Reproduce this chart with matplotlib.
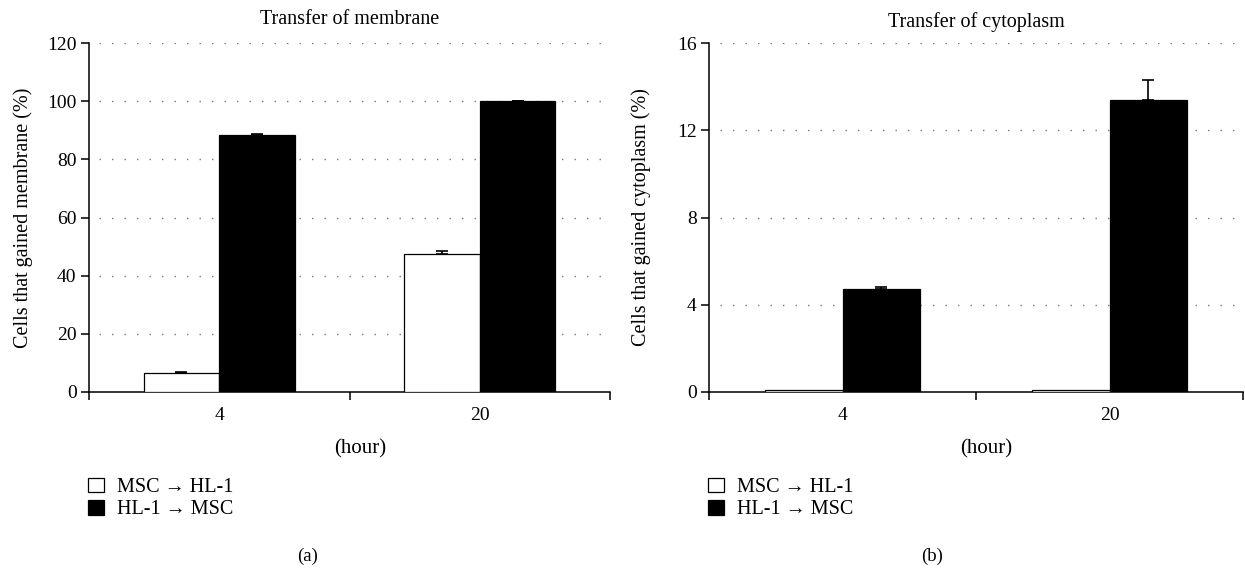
import numpy as np
import matplotlib.pyplot as plt

plt.rcParams['font.family'] = ['Liberation Serif', 'DejaVu Serif']
plt.rcParams['font.size'] = 14

# Data
hours = ['4', '20']
series = ['MSC \u2192 HL-1', 'HL-1 \u2192 MSC']
colors = ['white', 'black']

membrane_msc = [6.5, 47.5]
membrane_msc_err = [0.3, 0.9]
membrane_hl1 = [88.3, 100.0]
membrane_hl1_err = [0.5, 0.2]

cyto_msc = [0.08, 0.08]
cyto_msc_err = [0.0, 0.0]
cyto_hl1 = [4.7, 13.4]
cyto_hl1_err = [0.1, 0.9]

panels = [
    dict(title='Transfer of membrane', ylabel='Cells that gained membrane (%)',
         vals=[membrane_msc, membrane_hl1], errs=[membrane_msc_err, membrane_hl1_err],
         yticks=[0, 20, 40, 60, 80, 100, 120], ymax=120, tag='(a)', pad=14,
         tag_x=308 / 1245,
         rect=[89 / 1245, 1 - 392 / 568, 521 / 1245, 349 / 568]),
    dict(title='Transfer of cytoplasm', ylabel='Cells that gained cytoplasm (%)',
         vals=[cyto_msc, cyto_hl1], errs=[cyto_msc_err, cyto_hl1_err],
         yticks=[0, 4, 8, 12, 16], ymax=16, tag='(b)', pad=11.5,
         tag_x=932 / 1245,
         rect=[709 / 1245, 1 - 392 / 568, 534 / 1245, 349 / 568]),
]

fig = plt.figure(figsize=(12.45, 5.68), dpi=100)
x = np.arange(len(hours))
w = 0.29

for p in panels:
    ax = fig.add_axes(p['rect'])
    handles = []
    for i, (v, e) in enumerate(zip(p['vals'], p['errs'])):
        pos = x + (i - 0.5) * w
        bars = ax.bar(pos, v, width=w, color=colors[i], edgecolor='black',
                      linewidth=0.9, label=series[i], zorder=3)
        errs = np.array(e)
        if errs.any():
            ax.errorbar(pos, v, yerr=[np.zeros_like(errs), errs], fmt='none',
                        ecolor='black', elinewidth=1.2, capsize=4, capthick=1.2, zorder=4)
        handles.append(bars)

    ax.set_xlim(-0.5, 1.5)
    ax.set_ylim(0, p['ymax'])
    ax.set_yticks(p['yticks'])
    for yv in p['yticks'][1:]:
        ax.axhline(yv, xmin=0.02, xmax=1, color='#777777', linestyle=(0, (1, 8)),
                   linewidth=1, zorder=1)

    # category boundaries as ticks, labels centered
    ax.set_xticks([-0.5, 0.5, 1.5])
    ax.set_xticklabels([])
    ax.set_xticks(x, minor=True)
    ax.set_xticklabels(hours, minor=True)
    ax.tick_params(axis='x', which='major', direction='out', length=6, width=1.1)
    ax.tick_params(axis='x', which='minor', length=0, pad=11, labelsize=14)
    ax.tick_params(axis='y', direction='out', length=6, width=1.1, pad=3, labelsize=14)

    for s in ['top', 'right']:
        ax.spines[s].set_visible(False)
    ax.spines['left'].set_linewidth(1.1)
    ax.spines['bottom'].set_linewidth(1.1)

    ax.set_title(p['title'], fontsize=14.5, pad=p['pad'])
    ax.set_ylabel(p['ylabel'], fontsize=14.5)
    ax.yaxis.set_label_coords(-0.108, 0.5)
    ax.set_xlabel('(hour)', fontsize=15)
    ax.xaxis.set_label_coords(0.52, -0.135)

    ax.legend(handles=handles, labels=series, loc='upper left',
              bbox_to_anchor=(-0.002, -0.245), frameon=False, fontsize=14.5,
              handlelength=0.8, handleheight=0.75, handletextpad=0.65,
              labelspacing=0.15, borderpad=0, borderaxespad=0)

    fig.text(p['tag_x'], 1 - 556 / 568, p['tag'], ha='center', va='center',
             fontsize=13.5)

fig.savefig('out.png', dpi=100)
